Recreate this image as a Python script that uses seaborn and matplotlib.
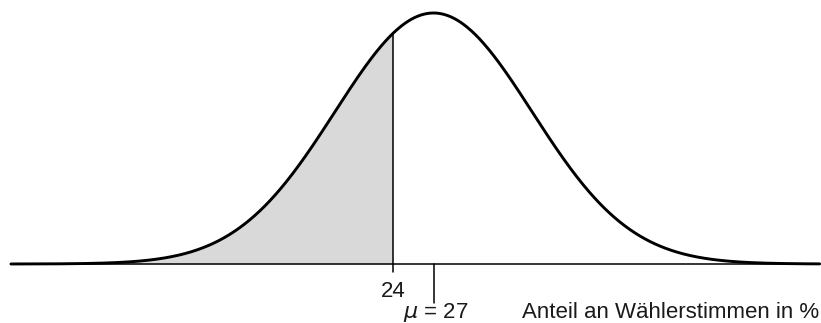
import numpy as np
import pandas as pd
import matplotlib
matplotlib.use("Agg")
import matplotlib.pyplot as plt
import seaborn as sns

# Normal distribution of the vote share (in %)
mu = 27
sigma = 7.3
cutoff = 24
x_start, x_end = -4.3, 55.6

tick_values = [24, 27]
tick_labels = ["24", "$\\mathit{\\mu}$ = 27"]
axis_label = "Anteil an Wählerstimmen in %"

sns.set_theme(style="white")
plt.rcParams["font.family"] = ["Liberation Sans", "DejaVu Sans"]
plt.rcParams["mathtext.fontset"] = "dejavusans"

x = np.linspace(x_start, x_end, 800)
pdf = np.exp(-0.5 * ((x - mu) / sigma) ** 2) / (sigma * np.sqrt(2 * np.pi))
df = pd.DataFrame({"x": x, "density": pdf})
peak = pdf.max()

fig = plt.figure(figsize=(8.21, 3.23), dpi=100)
ax = fig.add_axes([0, 0, 1, 1])

# vertical scale: peak 251 px above the axis, axis 264 px below the top
k = peak / 251.0
ax.set_xlim(-5.11, 55.7)
ax.set_ylim(-(323 - 264) * k, 264 * k)
ax.axis("off")

# shaded area left of the cutoff
mask = x <= cutoff
ax.fill_between(x[mask], 0, pdf[mask], color="#d9d9d9", linewidth=0, zorder=1)

# x axis with arrow
ax.plot([x_start, 55.4], [0, 0], color="black", linewidth=1.1, zorder=2,
        solid_capstyle="butt")
ax.annotate("", xy=(55.75, 0), xytext=(55.0, 0),
            arrowprops=dict(arrowstyle="-|>", color="black", lw=1.0,
                            mutation_scale=10), zorder=2)

# density curve
sns.lineplot(data=df, x="x", y="density", ax=ax, color="black",
             linewidth=2.1, zorder=3)

# cutoff line and ticks
y_cut = np.exp(-0.5 * ((cutoff - mu) / sigma) ** 2) / (sigma * np.sqrt(2 * np.pi))
ax.plot([cutoff, cutoff], [-8 * k, y_cut], color="black", linewidth=1.1, zorder=2)
ax.plot([mu, mu], [0, -39 * k], color="black", linewidth=1.1, zorder=2)

# labels
fs = 16
ax.text(tick_values[0], -33 * k, tick_labels[0], ha="center", va="baseline",
        fontsize=fs, color="#1a1a1a")
ax.text(tick_values[1] + 0.15, -54 * k, tick_labels[1], ha="center", va="baseline",
        fontsize=fs, color="#1a1a1a")
ax.text(55.55, -54 * k, axis_label, ha="right", va="baseline",
        fontsize=fs, color="#1a1a1a")

fig.savefig("out.png", dpi=100)
